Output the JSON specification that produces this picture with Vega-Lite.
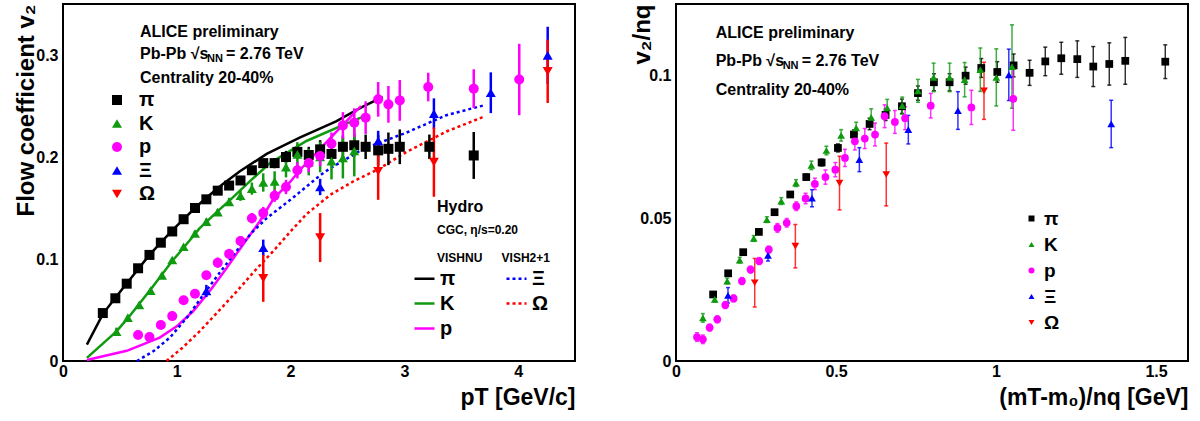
{
"$schema": "https://vega.github.io/schema/vega-lite/v6.json",
"background": "white",
"padding": {"left": 12, "top": 3, "right": 8, "bottom": 0},
"spacing": 53,
"config": {
  "font": "Liberation Sans",
  "view": {"stroke": "black", "strokeWidth": 2},
  "axis": {"domain": false, "grid": false, "zindex": 1, "labelFont": "Liberation Sans", "labelFontWeight": "bold", "labelFontSize": 16, "labelColor": "black", "labelFlush": false, "labelOverlap": false, "tickColor": "black", "tickWidth": 1.5, "titleFont": "Liberation Sans", "titleFontWeight": "bold", "titleColor": "black"},
  "legend": {"labelFont": "Liberation Sans", "labelFontWeight": "bold", "labelColor": "black", "padding": 0, "titlePadding": 0, "symbolOpacity": 1},
  "text": {"font": "Liberation Sans", "fontWeight": "bold", "color": "black"}
},
"datasets": {
  "left": [
    {"s":"π","x":0.35,"y":0.047,"e":0.002},{"s":"π","x":0.46,"y":0.0615,"e":0.002},{"s":"π","x":0.56,"y":0.0758,"e":0.002},{"s":"π","x":0.66,"y":0.0909,"e":0.002},{"s":"π","x":0.76,"y":0.104,"e":0.002},{"s":"π","x":0.86,"y":0.116,"e":0.002},{"s":"π","x":0.96,"y":0.127,"e":0.002},{"s":"π","x":1.06,"y":0.139,"e":0.002},{"s":"π","x":1.16,"y":0.15,"e":0.002},{"s":"π","x":1.26,"y":0.1585,"e":0.003},{"s":"π","x":1.36,"y":0.167,"e":0.003},{"s":"π","x":1.46,"y":0.172,"e":0.003},{"s":"π","x":1.56,"y":0.177,"e":0.003},{"s":"π","x":1.66,"y":0.187,"e":0.004},{"s":"π","x":1.76,"y":0.194,"e":0.004},{"s":"π","x":1.86,"y":0.194,"e":0.005},{"s":"π","x":1.96,"y":0.2,"e":0.006},{"s":"π","x":2.06,"y":0.205,"e":0.007},{"s":"π","x":2.16,"y":0.202,"e":0.008},{"s":"π","x":2.26,"y":0.2075,"e":0.009},{"s":"π","x":2.36,"y":0.203,"e":0.01},{"s":"π","x":2.46,"y":0.21,"e":0.011},{"s":"π","x":2.56,"y":0.2115,"e":0.011},{"s":"π","x":2.66,"y":0.21,"e":0.012},{"s":"π","x":2.77,"y":0.2065,"e":0.015},{"s":"π","x":2.86,"y":0.208,"e":0.016},{"s":"π","x":2.96,"y":0.21,"e":0.017},{"s":"π","x":3.22,"y":0.21,"e":0.012},{"s":"π","x":3.61,"y":0.2015,"e":0.023},
    {"s":"K","x":0.47,"y":0.0287,"e":0.004},{"s":"K","x":0.57,"y":0.0425,"e":0.002},{"s":"K","x":0.67,"y":0.055,"e":0.002},{"s":"K","x":0.77,"y":0.069,"e":0.002},{"s":"K","x":0.87,"y":0.084,"e":0.002},{"s":"K","x":0.96,"y":0.099,"e":0.002},{"s":"K","x":1.06,"y":0.112,"e":0.002},{"s":"K","x":1.16,"y":0.125,"e":0.003},{"s":"K","x":1.26,"y":0.1366,"e":0.003},{"s":"K","x":1.36,"y":0.146,"e":0.003},{"s":"K","x":1.46,"y":0.156,"e":0.004},{"s":"K","x":1.56,"y":0.162,"e":0.005},{"s":"K","x":1.66,"y":0.169,"e":0.006},{"s":"K","x":1.76,"y":0.175,"e":0.009},{"s":"K","x":1.86,"y":0.176,"e":0.01},{"s":"K","x":1.96,"y":0.19,"e":0.01},{"s":"K","x":2.06,"y":0.2026,"e":0.012},{"s":"K","x":2.16,"y":0.195,"e":0.013},{"s":"K","x":2.26,"y":0.2,"e":0.015},{"s":"K","x":2.36,"y":0.196,"e":0.018},{"s":"K","x":2.46,"y":0.199,"e":0.02},{"s":"K","x":2.56,"y":0.206,"e":0.025},
    {"s":"p","x":0.66,"y":0.0255,"e":0.004},{"s":"p","x":0.76,"y":0.0235,"e":0.004},{"s":"p","x":0.86,"y":0.0353,"e":0.003},{"s":"p","x":0.96,"y":0.044,"e":0.003},{"s":"p","x":1.06,"y":0.0595,"e":0.004},{"s":"p","x":1.16,"y":0.066,"e":0.004},{"s":"p","x":1.26,"y":0.084,"e":0.004},{"s":"p","x":1.36,"y":0.0964,"e":0.005},{"s":"p","x":1.46,"y":0.105,"e":0.005},{"s":"p","x":1.56,"y":0.1176,"e":0.005},{"s":"p","x":1.66,"y":0.14,"e":0.005},{"s":"p","x":1.76,"y":0.145,"e":0.006},{"s":"p","x":1.86,"y":0.162,"e":0.006},{"s":"p","x":1.96,"y":0.1706,"e":0.007},{"s":"p","x":2.06,"y":0.187,"e":0.008},{"s":"p","x":2.16,"y":0.194,"e":0.009},{"s":"p","x":2.26,"y":0.201,"e":0.01},{"s":"p","x":2.36,"y":0.213,"e":0.011},{"s":"p","x":2.46,"y":0.231,"e":0.013},{"s":"p","x":2.56,"y":0.2337,"e":0.014},{"s":"p","x":2.66,"y":0.2386,"e":0.016},{"s":"p","x":2.77,"y":0.2565,"e":0.017},{"s":"p","x":2.86,"y":0.2516,"e":0.018},{"s":"p","x":2.96,"y":0.2555,"e":0.02},{"s":"p","x":3.21,"y":0.2686,"e":0.014},{"s":"p","x":3.61,"y":0.267,"e":0.019},{"s":"p","x":4.01,"y":0.276,"e":0.035},
    {"s":"Ξ","x":1.26,"y":0.0686,"e":0.006},{"s":"Ξ","x":1.76,"y":0.111,"e":0.008},{"s":"Ξ","x":2.26,"y":0.1706,"e":0.008},{"s":"Ξ","x":2.77,"y":0.2157,"e":0.01},{"s":"Ξ","x":3.26,"y":0.2425,"e":0.015},{"s":"Ξ","x":3.76,"y":0.263,"e":0.02},{"s":"Ξ","x":4.26,"y":0.2997,"e":0.028},
    {"s":"Ω","x":1.76,"y":0.081,"e":0.023},{"s":"Ω","x":2.26,"y":0.121,"e":0.024},{"s":"Ω","x":2.77,"y":0.186,"e":0.028},{"s":"Ω","x":3.26,"y":0.195,"e":0.034},{"s":"Ω","x":4.26,"y":0.284,"e":0.031}
  ],
  "hydro": [
    {"m":"π","x":0.21,"y":0.016},{"m":"π","x":0.35,"y":0.046},{"m":"π","x":0.46,"y":0.062},{"m":"π","x":0.56,"y":0.076},{"m":"π","x":0.76,"y":0.104},{"m":"π","x":0.96,"y":0.128},{"m":"π","x":1.16,"y":0.15},{"m":"π","x":1.26,"y":0.16},{"m":"π","x":1.4,"y":0.173},{"m":"π","x":1.555,"y":0.186},{"m":"π","x":1.79,"y":0.203},{"m":"π","x":2.08,"y":0.219},{"m":"π","x":2.4,"y":0.235},{"m":"π","x":2.61,"y":0.248},{"m":"π","x":2.81,"y":0.259},
    {"m":"K","x":0.21,"y":0.003},{"m":"K","x":0.47,"y":0.029},{"m":"K","x":0.57,"y":0.042},{"m":"K","x":0.77,"y":0.07},{"m":"K","x":0.96,"y":0.098},{"m":"K","x":1.06,"y":0.111},{"m":"K","x":1.2,"y":0.13},{"m":"K","x":1.36,"y":0.147},{"m":"K","x":1.47,"y":0.158},{"m":"K","x":1.66,"y":0.178},{"m":"K","x":1.82,"y":0.194},{"m":"K","x":2.14,"y":0.2157},{"m":"K","x":2.49,"y":0.2327},{"m":"K","x":2.65,"y":0.24},
    {"m":"p","x":0.21,"y":0.001},{"m":"p","x":0.56,"y":0.01},{"m":"p","x":0.85,"y":0.023},{"m":"p","x":1.0,"y":0.034},{"m":"p","x":1.145,"y":0.049},{"m":"p","x":1.3,"y":0.07},{"m":"p","x":1.44,"y":0.0915},{"m":"p","x":1.6,"y":0.117},{"m":"p","x":1.73,"y":0.137},{"m":"p","x":1.85,"y":0.159},{"m":"p","x":2.0,"y":0.176},{"m":"p","x":2.08,"y":0.187},{"m":"p","x":2.32,"y":0.215},{"m":"p","x":2.55,"y":0.242},{"m":"p","x":2.62,"y":0.25},
    {"m":"Ξ","x":0.65,"y":0.0},{"m":"Ξ","x":0.8,"y":0.01},{"m":"Ξ","x":0.94,"y":0.023},{"m":"Ξ","x":1.1,"y":0.044},{"m":"Ξ","x":1.233,"y":0.065},{"m":"Ξ","x":1.38,"y":0.087},{"m":"Ξ","x":1.526,"y":0.108},{"m":"Ξ","x":1.66,"y":0.126},{"m":"Ξ","x":1.79,"y":0.14},{"m":"Ξ","x":2.02,"y":0.16},{"m":"Ξ","x":2.26,"y":0.182},{"m":"Ξ","x":2.35,"y":0.189},{"m":"Ξ","x":2.64,"y":0.208},{"m":"Ξ","x":3.02,"y":0.224},{"m":"Ξ","x":3.37,"y":0.241},{"m":"Ξ","x":3.71,"y":0.251},
    {"m":"Ω","x":0.91,"y":0.0},{"m":"Ω","x":1.05,"y":0.013},{"m":"Ω","x":1.2,"y":0.029},{"m":"Ω","x":1.36,"y":0.048},{"m":"Ω","x":1.53,"y":0.0686},{"m":"Ω","x":1.69,"y":0.089},{"m":"Ω","x":1.85,"y":0.108},{"m":"Ω","x":2.0,"y":0.127},{"m":"Ω","x":2.14,"y":0.144},{"m":"Ω","x":2.35,"y":0.163},{"m":"Ω","x":2.55,"y":0.176},{"m":"Ω","x":2.77,"y":0.188},{"m":"Ω","x":3.02,"y":0.205},{"m":"Ω","x":3.37,"y":0.225},{"m":"Ω","x":3.71,"y":0.24}
  ],
  "right": [
    {"s":"π","x":0.116,"y":0.0233,"e":0.0005},{"s":"π","x":0.163,"y":0.0307,"e":0.0005},{"s":"π","x":0.21,"y":0.0381,"e":0.0005},{"s":"π","x":0.259,"y":0.0452,"e":0.0006},{"s":"π","x":0.308,"y":0.0521,"e":0.0007},{"s":"π","x":0.357,"y":0.0583,"e":0.0008},{"s":"π","x":0.407,"y":0.0644,"e":0.001},{"s":"π","x":0.455,"y":0.0695,"e":0.0012},{"s":"π","x":0.506,"y":0.0746,"e":0.0014},{"s":"π","x":0.556,"y":0.0793,"e":0.0016},{"s":"π","x":0.605,"y":0.083,"e":0.002},{"s":"π","x":0.655,"y":0.0862,"e":0.002},{"s":"π","x":0.706,"y":0.0892,"e":0.0025},{"s":"π","x":0.756,"y":0.0938,"e":0.0025},{"s":"π","x":0.806,"y":0.0976,"e":0.003},{"s":"π","x":0.855,"y":0.0976,"e":0.003},{"s":"π","x":0.905,"y":0.0999,"e":0.003},{"s":"π","x":0.954,"y":0.1026,"e":0.0033},{"s":"π","x":1.004,"y":0.1012,"e":0.0036},{"s":"π","x":1.055,"y":0.1035,"e":0.004},{"s":"π","x":1.105,"y":0.1009,"e":0.0044},{"s":"π","x":1.154,"y":0.1049,"e":0.005},{"s":"π","x":1.204,"y":0.106,"e":0.0056},{"s":"π","x":1.254,"y":0.1057,"e":0.0064},{"s":"π","x":1.304,"y":0.1031,"e":0.007},{"s":"π","x":1.354,"y":0.104,"e":0.0074},{"s":"π","x":1.404,"y":0.1051,"e":0.0082},{"s":"π","x":1.529,"y":0.1048,"e":0.0059},
    {"s":"K","x":0.084,"y":0.0151,"e":0.0015},{"s":"K","x":0.121,"y":0.0216,"e":0.001},{"s":"K","x":0.16,"y":0.028,"e":0.001},{"s":"K","x":0.199,"y":0.0353,"e":0.001},{"s":"K","x":0.243,"y":0.0429,"e":0.001},{"s":"K","x":0.284,"y":0.0495,"e":0.001},{"s":"K","x":0.329,"y":0.056,"e":0.0012},{"s":"K","x":0.375,"y":0.0623,"e":0.0012},{"s":"K","x":0.423,"y":0.0685,"e":0.0015},{"s":"K","x":0.47,"y":0.0737,"e":0.0015},{"s":"K","x":0.516,"y":0.079,"e":0.002},{"s":"K","x":0.563,"y":0.0816,"e":0.002},{"s":"K","x":0.61,"y":0.0853,"e":0.003},{"s":"K","x":0.66,"y":0.0886,"e":0.003},{"s":"K","x":0.707,"y":0.0894,"e":0.003},{"s":"K","x":0.756,"y":0.0946,"e":0.004},{"s":"K","x":0.805,"y":0.0993,"e":0.005},{"s":"K","x":0.855,"y":0.0993,"e":0.005},{"s":"K","x":0.902,"y":0.0985,"e":0.006},{"s":"K","x":0.951,"y":0.102,"e":0.0076},{"s":"K","x":1.001,"y":0.0993,"e":0.01},{"s":"K","x":1.05,"y":0.1031,"e":0.0146},
    {"s":"p","x":0.0656,"y":0.0084,"e":0.0015},{"s":"p","x":0.084,"y":0.0076,"e":0.0015},{"s":"p","x":0.105,"y":0.0117,"e":0.0012},{"s":"p","x":0.129,"y":0.0146,"e":0.0012},{"s":"p","x":0.154,"y":0.0196,"e":0.0012},{"s":"p","x":0.18,"y":0.0219,"e":0.0012},{"s":"p","x":0.206,"y":0.028,"e":0.0012},{"s":"p","x":0.233,"y":0.032,"e":0.0012},{"s":"p","x":0.26,"y":0.035,"e":0.0012},{"s":"p","x":0.29,"y":0.039,"e":0.0012},{"s":"p","x":0.317,"y":0.0466,"e":0.0015},{"s":"p","x":0.346,"y":0.0484,"e":0.0015},{"s":"p","x":0.376,"y":0.0542,"e":0.0015},{"s":"p","x":0.405,"y":0.0569,"e":0.0018},{"s":"p","x":0.434,"y":0.062,"e":0.002},{"s":"p","x":0.467,"y":0.0644,"e":0.0025},{"s":"p","x":0.498,"y":0.067,"e":0.0025},{"s":"p","x":0.528,"y":0.0711,"e":0.003},{"s":"p","x":0.559,"y":0.0769,"e":0.003},{"s":"p","x":0.59,"y":0.0779,"e":0.0035},{"s":"p","x":0.622,"y":0.0793,"e":0.004},{"s":"p","x":0.652,"y":0.0857,"e":0.004},{"s":"p","x":0.684,"y":0.0837,"e":0.004},{"s":"p","x":0.716,"y":0.085,"e":0.004},{"s":"p","x":0.796,"y":0.0894,"e":0.0043},{"s":"p","x":0.923,"y":0.0888,"e":0.006},{"s":"p","x":1.054,"y":0.0918,"e":0.011},
    {"s":"Ξ","x":0.1625,"y":0.023,"e":0.0027},{"s":"Ξ","x":0.2875,"y":0.037,"e":0.002},{"s":"Ξ","x":0.425,"y":0.057,"e":0.003},{"s":"Ξ","x":0.573,"y":0.0705,"e":0.0042},{"s":"Ξ","x":0.726,"y":0.081,"e":0.005},{"s":"Ξ","x":0.881,"y":0.0877,"e":0.0066},{"s":"Ξ","x":1.04,"y":0.1002,"e":0.009},{"s":"Ξ","x":1.36,"y":0.083,"e":0.0083},
    {"s":"Ω","x":0.246,"y":0.0274,"e":0.0085},{"s":"Ω","x":0.373,"y":0.0402,"e":0.0076},{"s":"Ω","x":0.511,"y":0.0623,"e":0.0094},{"s":"Ω","x":0.657,"y":0.0653,"e":0.011},{"s":"Ω","x":0.9625,"y":0.0946,"e":0.01}
  ]
},
"hconcat": [
  {
    "width": 512, "height": 357,
    "resolve": {"axis": {"x": "independent", "y": "independent"}, "scale": {"color": "independent", "shape": "independent", "strokeDash": "independent"}},
    "layer": [
      {
        "data": {"name": "hydro"},
        "mark": {"type": "line", "strokeWidth": 2.5},
        "encoding": {
          "x": {"field": "x", "type": "quantitative", "scale": {"domain": [0, 4.5], "nice": false, "zero": false}, "axis": null},
          "y": {"field": "y", "type": "quantitative", "scale": {"domain": [0, 0.35], "nice": false}, "axis": null},
          "color": {"field": "m", "type": "nominal", "scale": {"domain": ["π","K","p","Ξ","Ω"], "range": ["black","#109a10","magenta","blue","red"]},
                    "legend": {"title": null, "orient": "none", "legendX": 350, "legendY": 263, "columns": 2, "columnPadding": 45, "rowPadding": 3, "symbolType": "stroke", "symbolSize": 400, "symbolStrokeWidth": 2.5, "labelFontSize": 20, "labelOffset": 4}},
          "strokeDash": {"field": "m", "type": "nominal", "scale": {"domain": ["π","K","p","Ξ","Ω"], "range": [[], [], [], [3,3], [3,3]]},
                    "legend": {"title": null, "orient": "none", "legendX": 350, "legendY": 263, "columns": 2, "columnPadding": 45, "rowPadding": 3, "symbolType": "stroke", "symbolSize": 400, "symbolStrokeWidth": 2.5, "labelFontSize": 20, "labelOffset": 4}}
        }
      },
      {
        "data": {"name": "left"},
        "mark": {"type": "errorbar", "thickness": 2.5},
        "encoding": {
          "x": {"field": "x", "type": "quantitative", "axis": null},
          "y": {"field": "y", "type": "quantitative", "axis": null},
          "yError": {"field": "e"},
          "color": {"field": "s", "type": "nominal", "scale": {"domain": ["π","K","p","Ξ","Ω"], "range": ["black","#109a10","magenta","blue","red"]}, "legend": null}
        }
      },
      {
        "data": {"name": "left"},
        "mark": {"type": "point", "filled": true, "opacity": 1, "size": 100},
        "encoding": {
          "x": {"field": "x", "type": "quantitative",
                "axis": {"orient": "bottom", "values": [0,1,2,3,4], "format": "~g", "ticks": false, "tickSize": 0, "labelPadding": 2,
                         "title": "pT [GeV/c]", "titleAnchor": "end", "titleFontSize": 23, "titleBaseline": "alphabetic", "titleY": 43}},
          "y": {"field": "y", "type": "quantitative",
                "axis": {"orient": "left", "values": [0,0.1,0.2,0.3], "format": "~g", "ticks": false, "tickSize": 0, "labelPadding": 5,
                         "title": "Flow coefficient v₂", "titleAnchor": "end", "titleFontSize": 24, "titleBaseline": "alphabetic", "titleX": -30}},
          "color": {"field": "s", "type": "nominal", "scale": {"domain": ["π","K","p","Ξ","Ω"], "range": ["black","#109a10","magenta","blue","red"]},
                    "legend": {"title": null, "orient": "none", "legendX": 44, "legendY": 86, "labelFontSize": 20, "rowPadding": 3.5, "labelOffset": 12, "symbolSize": 100}},
          "shape": {"field": "s", "type": "nominal", "scale": {"domain": ["π","K","p","Ξ","Ω"], "range": ["square","triangle-up","circle","triangle-up","triangle-down"]},
                    "legend": {"title": null, "orient": "none", "legendX": 44, "legendY": 86, "labelFontSize": 20, "rowPadding": 3.5, "labelOffset": 12, "symbolSize": 100}}
        }
      },
      {"data": {"values": [{}]}, "mark": {"type": "text", "text": "ALICE preliminary", "align": "left", "baseline": "middle", "fontSize": 16},
       "encoding": {"x": {"datum": 0.677, "type": "quantitative", "axis": null}, "y": {"datum": 0.3228, "type": "quantitative", "axis": null}}},
      {"data": {"values": [{}]}, "mark": {"type": "text", "text": "Pb-Pb √s", "align": "left", "baseline": "middle", "fontSize": 16},
       "encoding": {"x": {"datum": 0.677, "type": "quantitative", "axis": null}, "y": {"datum": 0.3007, "type": "quantitative", "axis": null}}},
      {"data": {"values": [{}]}, "mark": {"type": "text", "text": "NN", "align": "left", "baseline": "middle", "fontSize": 11, "dx": 67, "dy": 5},
       "encoding": {"x": {"datum": 0.677, "type": "quantitative", "axis": null}, "y": {"datum": 0.3007, "type": "quantitative", "axis": null}}},
      {"data": {"values": [{}]}, "mark": {"type": "text", "text": "= 2.76 TeV", "align": "left", "baseline": "middle", "fontSize": 16, "dx": 86},
       "encoding": {"x": {"datum": 0.677, "type": "quantitative", "axis": null}, "y": {"datum": 0.3007, "type": "quantitative", "axis": null}}},
      {"data": {"values": [{}]}, "mark": {"type": "text", "text": "Centrality 20-40%", "align": "left", "baseline": "middle", "fontSize": 16},
       "encoding": {"x": {"datum": 0.677, "type": "quantitative", "axis": null}, "y": {"datum": 0.2772, "type": "quantitative", "axis": null}}},
      {"data": {"values": [{}]}, "mark": {"type": "text", "text": "Hydro", "align": "left", "baseline": "middle", "fontSize": 16},
       "encoding": {"x": {"datum": 3.287, "type": "quantitative", "axis": null}, "y": {"datum": 0.151, "type": "quantitative", "axis": null}}},
      {"data": {"values": [{}]}, "mark": {"type": "text", "text": "CGC, η/s=0.20", "align": "left", "baseline": "middle", "fontSize": 12},
       "encoding": {"x": {"datum": 3.287, "type": "quantitative", "axis": null}, "y": {"datum": 0.128, "type": "quantitative", "axis": null}}},
      {"data": {"values": [{}]}, "mark": {"type": "text", "text": "VISHNU", "align": "left", "baseline": "middle", "fontSize": 12},
       "encoding": {"x": {"datum": 3.287, "type": "quantitative", "axis": null}, "y": {"datum": 0.1013, "type": "quantitative", "axis": null}}},
      {"data": {"values": [{}]}, "mark": {"type": "text", "text": "VISH2+1", "align": "left", "baseline": "middle", "fontSize": 12},
       "encoding": {"x": {"datum": 3.855, "type": "quantitative", "axis": null}, "y": {"datum": 0.1013, "type": "quantitative", "axis": null}}}
    ]
  },
  {
    "width": 512, "height": 357,
    "resolve": {"axis": {"x": "independent", "y": "independent"}, "scale": {"color": "independent", "shape": "independent"}},
    "layer": [
      {
        "data": {"name": "right"},
        "mark": {"type": "errorbar", "thickness": 1.5, "ticks": {"size": 4}, "opacity": 0.8},
        "encoding": {
          "x": {"field": "x", "type": "quantitative", "scale": {"domain": [0, 1.6], "nice": false, "zero": false}, "axis": null},
          "y": {"field": "y", "type": "quantitative", "scale": {"domain": [0, 0.125], "nice": false}, "axis": null},
          "yError": {"field": "e"},
          "color": {"field": "s", "type": "nominal", "scale": {"domain": ["π","K","p","Ξ","Ω"], "range": ["black","#109a10","magenta","blue","red"]}, "legend": null}
        }
      },
      {
        "data": {"name": "right"},
        "mark": {"type": "point", "filled": true, "opacity": 1, "size": 60},
        "encoding": {
          "x": {"field": "x", "type": "quantitative",
                "axis": {"orient": "bottom", "values": [0,0.5,1,1.5], "format": "~g", "ticks": false, "tickSize": 0, "labelPadding": 2,
                         "title": "(mT-m₀)/nq [GeV]", "titleAnchor": "end", "titleFontSize": 23, "titleBaseline": "alphabetic", "titleY": 43}},
          "y": {"field": "y", "type": "quantitative",
                "axis": {"orient": "left", "values": [0,0.05,0.1], "format": "~g", "ticks": false, "tickSize": 0, "labelPadding": 5,
                         "title": "v₂/nq", "titleAnchor": "end", "titleFontSize": 24, "titleBaseline": "alphabetic", "titleX": -27}},
          "color": {"field": "s", "type": "nominal", "scale": {"domain": ["π","K","p","Ξ","Ω"], "range": ["black","#109a10","magenta","blue","red"]},
                    "legend": {"title": null, "orient": "none", "legendX": 346, "legendY": 205, "labelFontSize": 19, "rowPadding": 6, "labelOffset": 3, "symbolSize": 36}},
          "shape": {"field": "s", "type": "nominal", "scale": {"domain": ["π","K","p","Ξ","Ω"], "range": ["square","triangle-up","circle","triangle-up","triangle-down"]},
                    "legend": {"title": null, "orient": "none", "legendX": 346, "legendY": 205, "labelFontSize": 19, "rowPadding": 6, "labelOffset": 3, "symbolSize": 36}}
        }
      },
      {"data": {"values": [{}]}, "mark": {"type": "text", "text": "ALICE preliminary", "align": "left", "baseline": "middle", "fontSize": 16},
       "encoding": {"x": {"datum": 0.124, "type": "quantitative", "axis": null}, "y": {"datum": 0.1147, "type": "quantitative", "axis": null}}},
      {"data": {"values": [{}]}, "mark": {"type": "text", "text": "Pb-Pb √s", "align": "left", "baseline": "middle", "fontSize": 16},
       "encoding": {"x": {"datum": 0.124, "type": "quantitative", "axis": null}, "y": {"datum": 0.1049, "type": "quantitative", "axis": null}}},
      {"data": {"values": [{}]}, "mark": {"type": "text", "text": "NN", "align": "left", "baseline": "middle", "fontSize": 11, "dx": 67, "dy": 5},
       "encoding": {"x": {"datum": 0.124, "type": "quantitative", "axis": null}, "y": {"datum": 0.1049, "type": "quantitative", "axis": null}}},
      {"data": {"values": [{}]}, "mark": {"type": "text", "text": "= 2.76 TeV", "align": "left", "baseline": "middle", "fontSize": 16, "dx": 86},
       "encoding": {"x": {"datum": 0.124, "type": "quantitative", "axis": null}, "y": {"datum": 0.1049, "type": "quantitative", "axis": null}}},
      {"data": {"values": [{}]}, "mark": {"type": "text", "text": "Centrality 20-40%", "align": "left", "baseline": "middle", "fontSize": 16},
       "encoding": {"x": {"datum": 0.124, "type": "quantitative", "axis": null}, "y": {"datum": 0.0948, "type": "quantitative", "axis": null}}}
    ]
  }
]
}
